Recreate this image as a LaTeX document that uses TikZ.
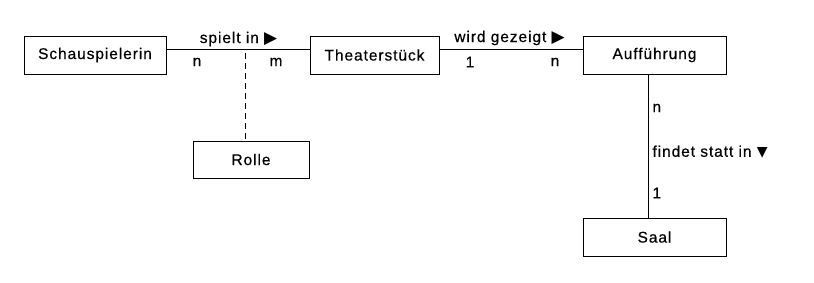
\documentclass[tikz,border=0pt]{standalone}
\usepackage{fontspec}
\setmainfont{Liberation Sans}[LetterSpace=6,FakeBold=0.4]
\newfontfamily\symfont{DejaVu Sans}
\newcommand{\rtri}{{\symfont\fontsize{17}{17}\selectfont ▶}}
\newcommand{\dtri}{{\symfont\fontsize{14}{14}\selectfont ▼}}
\begin{document}
\begin{tikzpicture}[x=1pt,y=-1pt,line width=1pt,
  ent/.style={draw,minimum height=38pt,inner sep=0pt,font=\fontsize{15.5}{18}\selectfont},
  lbl/.style={inner sep=0pt,font=\fontsize{15.5}{18}\selectfont}]
\useasboundingbox (0,0) rectangle (814,282);
\node[ent,minimum width=142pt] (S) at (95,55) {Schauspielerin};
\node[ent,minimum width=129pt] (T) at (374.5,55) {Theaterstück};
\node[ent,minimum width=143pt] (A) at (654.5,55) {Aufführung};
\node[ent,minimum width=143pt] (Saal) at (654.5,237) {Saal};
\node[ent,minimum width=116pt,minimum height=37pt] (R) at (251,159.5) {Rolle};
\draw ([yshift=6pt]S.east) -- ([yshift=6pt]T.west);
\draw ([yshift=6pt]T.east) -- ([yshift=6pt]A.west);
\draw ([xshift=-6.5pt]A.south) -- ([xshift=-6.5pt]Saal.north);
\coordinate (d) at (245,53);
\draw[dashed,dash pattern=on 6pt off 4pt] (d) -- (d |- R.north);
\node[lbl] (l1) at (238.5,39) {spielt in \rtri};
\node[lbl] (n1) at (197,62) {n};
\node[lbl] (m1) at (276,62) {m};
\node[lbl] (l2) at (509.5,38) {wird gezeigt \rtri};
\node[lbl] (o2) at (470,62) {1};
\node[lbl] (n2) at (555,62) {n};
\node[lbl,anchor=west] (n3) at (652,108) {n};
\node[lbl,anchor=west] (l3) at (652,152) {findet statt in \dtri};
\node[lbl,anchor=west] (o3) at (652,193) {1};
\end{tikzpicture}
\end{document}
